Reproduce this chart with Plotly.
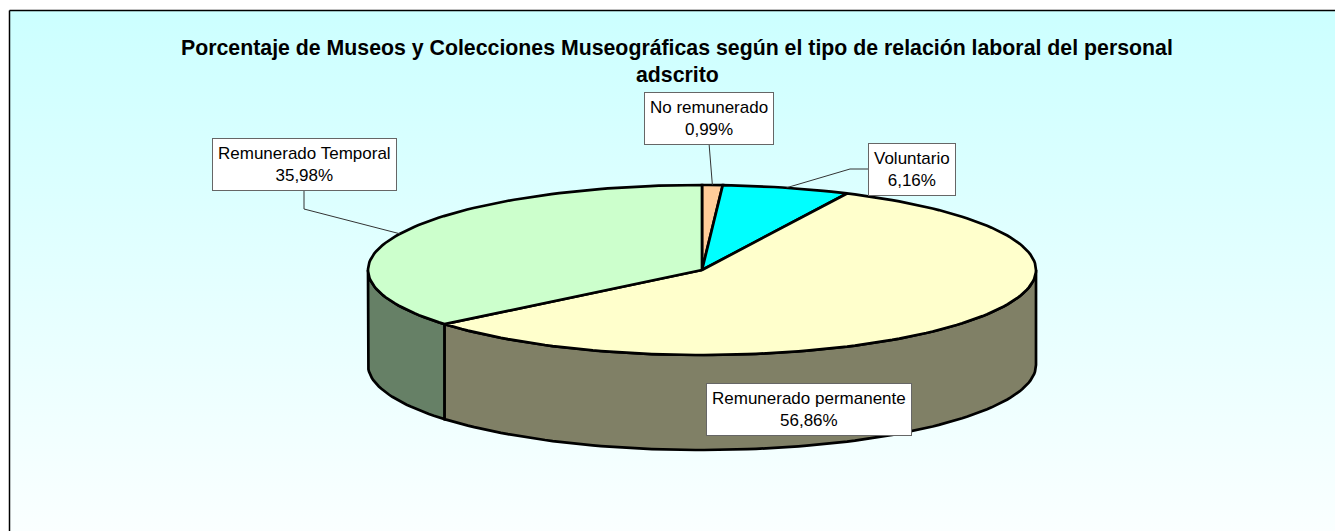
import math
import plotly.graph_objects as go

# ---- data ----
categories = ["No remunerado", "Voluntario", "Remunerado permanente", "Remunerado Temporal"]
values = [0.99, 6.16, 56.86, 35.98]
title_lines = [
    "Porcentaje de Museos y Colecciones Museográficas según el tipo de relación laboral del personal",
    "adscrito",
]

# ---- style ----
top_colors = ["#FFCC99", "#00FFFF", "#FFFFCC", "#CCFFCC"]
side_colors = ["#806650", "#008080", "#808066", "#668066"]
W, H = 1335, 531
cx, cy, rx, ry, depth = 702, 270, 334, 85, 95
FONT = "Arial, 'Liberation Sans', sans-serif"
label_pos = [(709, 118), (912, 169), (809, 409), (304, 164)]


def pt(theta_deg, dz=0.0):
    t = math.radians(theta_deg)
    return cx + rx * math.sin(t), cy - ry * math.cos(t) + dz


def arc(a0, a1, dz=0.0, n=240):
    steps = max(2, int(n * (a1 - a0) / 360) + 2)
    xs, ys = [], []
    for i in range(steps):
        a = a0 + (a1 - a0) * i / (steps - 1)
        x, y = pt(a, dz)
        xs.append(x)
        ys.append(y)
    return xs, ys


fig = go.Figure()

# background frame with vertical gradient
fig.add_trace(go.Scatter(
    x=[9.5, 1400, 1400, 9.5, 9.5], y=[10.5, 10.5, 600, 600, 10.5],
    mode="lines", fill="toself",
    fillgradient=dict(type="vertical", colorscale=[[0, "#CCFFFF"], [1, "#FAFFFF"]], start=10, stop=531),
    line=dict(color="black", width=1.5), hoverinfo="skip", showlegend=False,
))

total = sum(values)
starts, ends = [], []
acc = 0.0
for v in values:
    starts.append(acc / total * 360)
    acc += v
    ends.append(acc / total * 360)

# outer walls (front half only)
for i in range(len(values)):
    a0, a1 = max(starts[i], 90), min(ends[i], 270)
    if a1 <= a0:
        continue
    tx, ty = arc(a0, a1)
    bx, by = arc(a0, a1, depth)
    xs = tx + bx[::-1] + [tx[0]]
    ys = ty + by[::-1] + [ty[0]]
    fig.add_trace(go.Scatter(x=xs, y=ys, mode="lines", fill="toself", fillcolor=side_colors[i],
                             line=dict(color="black", width=2.7), hoverinfo="skip", showlegend=False))

# top faces
for i in range(len(values)):
    ax, ay = arc(starts[i], ends[i])
    xs = [cx] + ax + [cx]
    ys = [cy] + ay + [cy]
    fig.add_trace(go.Scatter(x=xs, y=ys, mode="lines", fill="toself", fillcolor=top_colors[i],
                             line=dict(color="black", width=2.7, shape="linear"),
                             hoverinfo="skip", showlegend=False))

# leader lines
mids = [pt((s + e) / 2) for s, e in zip(starts, ends)]
leaders = [
    ([label_pos[0][0], mids[0][0]], [label_pos[0][1] + 25, mids[0][1]]),
    ([label_pos[1][0] - 42, label_pos[1][0] - 62, mids[1][0]], [label_pos[1][1], label_pos[1][1], mids[1][1]]),
    None,
    ([label_pos[3][0], label_pos[3][0], mids[3][0]], [label_pos[3][1] + 26, label_pos[3][1] + 45, mids[3][1]]),
]
for ld in leaders:
    if ld is None:
        continue
    fig.add_trace(go.Scatter(x=ld[0], y=ld[1], mode="lines", line=dict(color="#333333", width=1),
                             hoverinfo="skip", showlegend=False))

# data labels
for i, (c, v) in enumerate(zip(categories, values)):
    txt = f"{c}<br>{v:.2f}".replace(".", ",") + "%"
    fig.add_annotation(x=label_pos[i][0], y=label_pos[i][1], text=txt, showarrow=False,
                       xanchor="center", yanchor="middle", align="center",
                       font=dict(family=FONT, size=17, color="black"),
                       bgcolor="white", bordercolor="#666666", borderwidth=1, borderpad=5)

# title
for tl, ty in zip(title_lines, [48, 75]):
    fig.add_annotation(x=677, y=ty, text=f"<b>{tl}</b>", showarrow=False,
                       xanchor="center", yanchor="middle",
                       font=dict(family=FONT, size=21.3, color="black"))

fig.update_layout(
    width=W, height=H, margin=dict(l=0, r=0, t=0, b=0),
    paper_bgcolor="white", plot_bgcolor="white", showlegend=False,
    xaxis=dict(range=[0, W], visible=False, fixedrange=True),
    yaxis=dict(range=[H, 0], visible=False, fixedrange=True),
)
fig.write_html("out.html", config={"displayModeBar": False, "staticPlot": True},
               post_script="document.body.style.margin='0';document.body.style.overflow='hidden';")
